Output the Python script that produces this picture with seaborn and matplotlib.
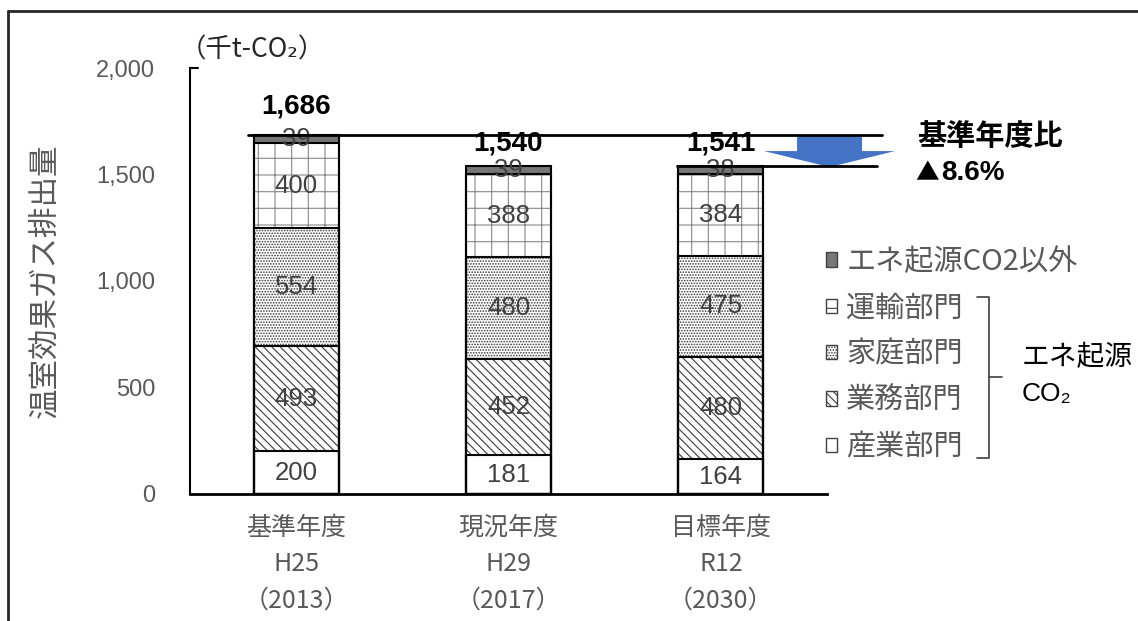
import numpy as np
import pandas as pd
import matplotlib
matplotlib.use("Agg")
import matplotlib.pyplot as plt
from matplotlib.patches import Patch, FancyArrow
from matplotlib.lines import Line2D
import seaborn as sns

# ---- data (千t-CO2) ----
categories = ["基準年度\nH25\n（2013）", "現況年度\nH29\n（2017）", "目標年度\nR12\n（2030）"]
sangyo = [200, 181, 164]      # 産業部門
gyomu = [493, 452, 480]       # 業務部門
katei = [554, 480, 475]       # 家庭部門
unyu = [400, 388, 384]        # 運輸部門
other = [39, 39, 38]          # エネ起源CO2以外
totals = [1686, 1540, 1541]
yticks = [0, 500, 1000, 1500, 2000]

layer_names = ["産業部門", "業務部門", "家庭部門", "運輸部門", "エネ起源CO2以外"]
layers = [sangyo, gyomu, katei, unyu, other]

# ---- styles ----
sns.set_theme(style="white")
plt.rcParams["font.family"] = ["Liberation Sans", "Noto Sans CJK JP", "DejaVu Sans"]
plt.rcParams["hatch.linewidth"] = 0.8
CJK = ["Noto Sans CJK JP", "DejaVu Sans"]
GRAY_TXT = "#595959"
SEG_TXT = "#404040"

styles = [
    dict(color="white", edgecolor="white", hatch=None),
    dict(color="white", edgecolor="#3a3a3a", hatch="\\\\\\\\"),
    dict(color="white", edgecolor="#3a3a3a", hatch="......"),
    dict(color="white", edgecolor="#8a8a8a", hatch="+"),
    dict(color="#767676", edgecolor="#767676", hatch=None),
]

fig = plt.figure(figsize=(11.38, 6.21), dpi=100)
ax = fig.add_axes([190 / 1138, 1 - 494 / 621, 637 / 1138, 426 / 621])

cum = np.cumsum(np.array(layers), axis=0)

# filled / hatched stacks, drawn from the tallest cumulative bar down
for i in range(len(layers) - 1, -1, -1):
    st = styles[i]
    kw = dict(x=categories, y=cum[i], order=categories, width=0.4, saturation=1,
              color=st["color"], edgecolor=st["edgecolor"], linewidth=0, ax=ax)
    if st["hatch"]:
        kw["hatch"] = st["hatch"]
    sns.barplot(**kw)

# black outlines for every segment boundary
for i in range(len(layers)):
    sns.barplot(x=categories, y=cum[i], order=categories, width=0.4, fill=False,
                color="black", linewidth=1.5, ax=ax)

# segment value labels
for i, vals in enumerate(layers):
    bottoms = cum[i] - np.array(vals)
    for j, v in enumerate(vals):
        ax.text(j, bottoms[j] + v / 2, f"{v}", ha="center", va="center",
                fontsize=18.5, color=SEG_TXT, zorder=5)

# totals above the bars
total_pad = [131, 107, 106]
for j, t in enumerate(totals):
    ax.text(j, t + total_pad[j], f"{t:,}", ha="center", va="center",
            fontsize=20, fontweight="bold", color="black", zorder=5)

# reference lines and reduction arrow
ax.plot([-0.225, 2.76], [totals[0], totals[0]], color="black", lw=2,
        clip_on=False, zorder=6)
ax.plot([1.795, 2.736], [totals[2], totals[2]], color="black", lw=2,
        clip_on=False, zorder=6)
arrow = FancyArrow(2.512, totals[0] - 5, 0, -(totals[0] - 5 - totals[2] + 6),
                   width=0.306, head_width=0.617, head_length=75,
                   length_includes_head=True, color="#4472C4", lw=0,
                   clip_on=False, zorder=4)
ax.add_patch(arrow)

# axes formatting
ax.set_xlim(-0.5, 2.5)
ax.set_ylim(0, 2000)
ax.set_yticks(yticks)
ax.set_yticklabels([f"{v:,}" for v in yticks])
ax.tick_params(axis="y", length=0, pad=25, labelsize=17, labelcolor=GRAY_TXT)
ax.tick_params(axis="x", length=0, pad=15, labelsize=18, labelcolor=GRAY_TXT)
for lab in ax.get_xticklabels():
    lab.set_family(CJK)
    lab.set_linespacing(1.52)
ax.set_xlabel("")
ax.set_ylabel("温室効果ガス排出量", fontsize=22, color=GRAY_TXT, family=CJK)
ax.yaxis.set_label_coords(-0.204, 0.5)
sns.despine(ax=ax)
ax.spines["left"].set_color("black")
ax.spines["left"].set_linewidth(1.5)
ax.spines["bottom"].set_color("black")
ax.spines["bottom"].set_linewidth(2)
ax.plot([0, 0.013], [1, 1], transform=ax.transAxes, color="black", lw=1.5,
        clip_on=False)

# unit label
fig.text(180 / 1138, 1 - 50 / 621, "（千t-CO₂）", fontsize=19, color="#262626",
         ha="left", va="center", family=CJK)

# legend
handles = [Patch(facecolor=styles[i]["color"], edgecolor="#404040",
                 hatch=styles[i]["hatch"], linewidth=1.0)
           for i in range(len(layers) - 1, -1, -1)]
labels = layer_names[::-1]
leg = fig.legend(handles, labels, loc="upper left",
                 bbox_to_anchor=(826 / 1138, 1 - 247 / 621),
                 bbox_transform=fig.transFigure, frameon=False,
                 handlelength=0.38, handleheight=0.38, handletextpad=0.32,
                 labelspacing=0.56, borderpad=0, borderaxespad=0,
                 prop={"family": CJK, "size": 21})
for t in leg.get_texts():
    t.set_color(GRAY_TXT)

# bracket grouping the energy-related CO2 sectors
def fig_line(xs, ys, **kw):
    fig.add_artist(Line2D([x / 1138 for x in xs], [1 - y / 621 for y in ys],
                          transform=fig.transFigure, **kw))

br = dict(color="#404040", lw=1.2)
fig_line([977, 989, 989, 977], [297, 297, 458, 458], **br)
fig_line([989, 1002], [377, 377], **br)

fig.text(1022 / 1138, 1 - 357 / 621, "エネ起源", fontsize=20, color="black",
         ha="left", va="center", family=CJK)
fig.text(1022 / 1138, 1 - 394 / 621, "CO₂", fontsize=19, color="black",
         ha="left", va="center")

# reduction annotation
fig.text(917 / 1138, 1 - 136 / 621, "基準年度比", fontsize=21, fontweight="bold",
         color="black", ha="left", va="center", family=CJK)
fig.text(915 / 1138, 1 - 173 / 621, "▲", fontsize=17, fontweight="bold",
         color="black", ha="left", va="center", family=CJK)
fig.text(941 / 1138, 1 - 173 / 621, "8.6%", fontsize=20, fontweight="bold",
         color="black", ha="left", va="center")

# outer frame (left and top edges)
fig.add_artist(Line2D([8 / 1138, 8 / 1138], [0, 1 - 11 / 621],
                      transform=fig.transFigure, color="#262626", lw=2))
fig.add_artist(Line2D([8 / 1138, 1], [1 - 11 / 621, 1 - 11 / 621],
                      transform=fig.transFigure, color="#262626", lw=2))

fig.savefig("out.png", dpi=100)
